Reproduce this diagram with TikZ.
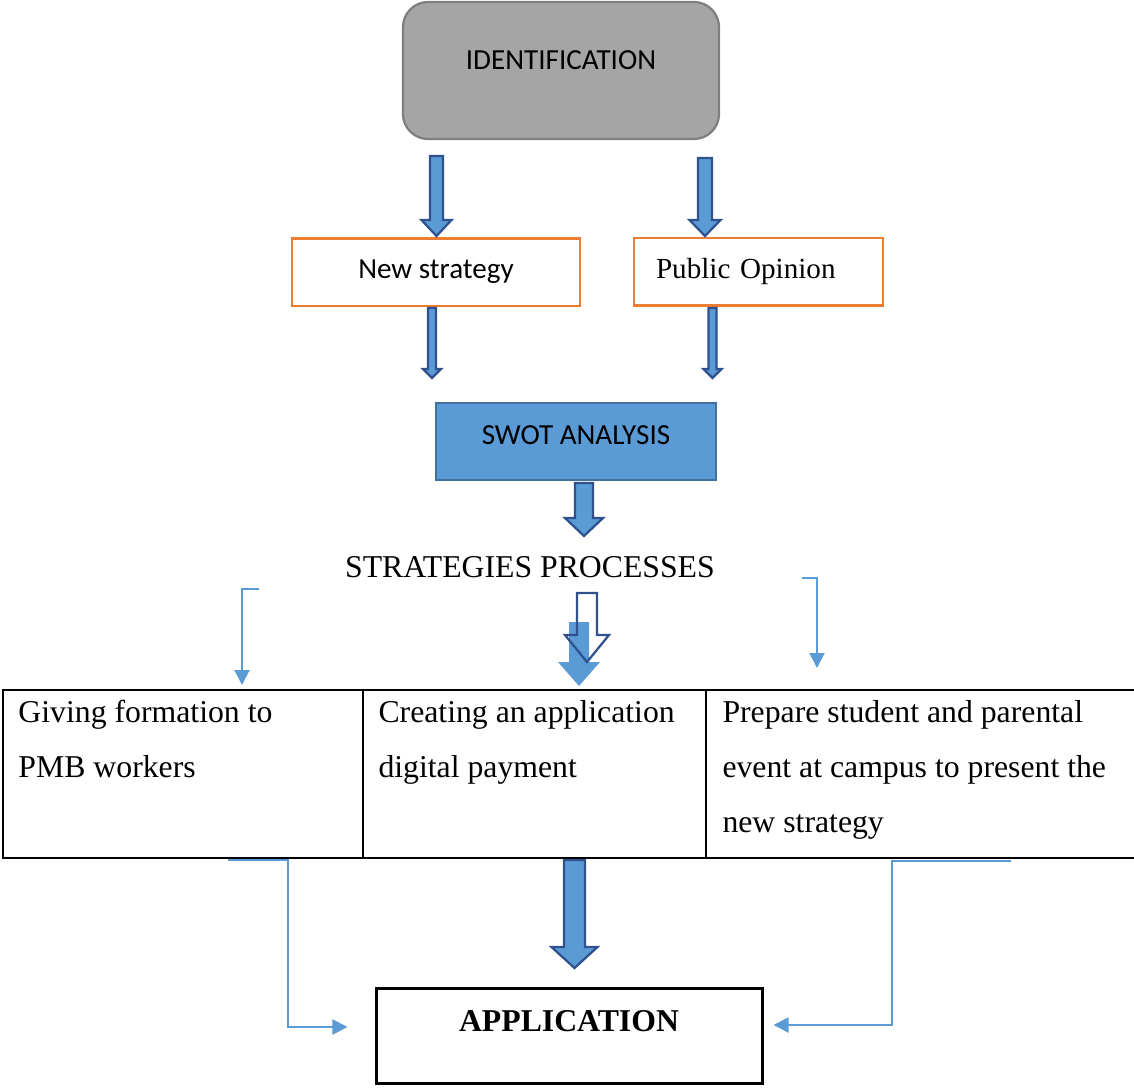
\documentclass[tikz,border=0pt]{standalone}
\usepackage{fontspec}
\setmainfont{Liberation Serif}
\newfontfamily\calibfont{Carlito}
\usetikzlibrary{arrows.meta}

\definecolor{accblue}{RGB}{91,155,213}
\definecolor{arrowedge}{RGB}{47,82,143}
\definecolor{swotedge}{RGB}{65,113,156}
\definecolor{boxorange}{RGB}{237,125,49}
\definecolor{idgray}{RGB}{165,165,165}
\definecolor{idedge}{RGB}{127,127,127}

\tikzset{
  pics/blockarrow/.style n args={4}{code={
    % #1 length, #2 half shaft, #3 half head, #4 head length (pointing down)
    \path[pic actions] (-#2,0) -- (#2,0) -- (#2,-#1+#4) -- (#3,-#1+#4) -- (0,-#1)
      -- (-#3,-#1+#4) -- (-#2,-#1+#4) -- cycle;
  }},
}

\begin{document}
\begin{tikzpicture}[x=0.4pt,y=0.4pt,yscale=-1,
  calib/.style={font=\calibfont\fontsize{11.65pt}{14pt}\selectfont},
  serif/.style={font=\fontsize{12.7pt}{22pt}\selectfont},
  idbox/.style={calib, draw=idedge, fill=idgray, line width=0.9pt, rounded corners=10pt,
    minimum width=126.4pt, minimum height=54.8pt, text depth=8pt},
  optbox/.style={draw=boxorange, line width=1pt, minimum height=27pt},
  swotbox/.style={calib, draw=swotedge, fill=accblue, line width=0.9pt,
    minimum width=112pt, minimum height=30.8pt, text depth=5.2pt},
  appbox/.style={font=\bfseries\fontsize{12.7pt}{15pt}\selectfont, draw=black,
    line width=1.2pt, minimum width=154.4pt, minimum height=38pt, text depth=12pt},
  celltext/.style={serif, anchor=north west, inner sep=0pt, align=left},
  blk/.style={fill=accblue, draw=arrowedge, line width=0.9pt, line join=miter},
  blkopen/.style={draw=arrowedge, line width=0.9pt, line join=miter},
  blkflat/.style={fill=accblue},
  link/.style={draw=accblue, line width=0.8pt, -{Triangle[width=6pt,length=6pt]}},
  grid/.style={draw=black, line width=0.8pt},
]
\useasboundingbox (0,0) rectangle (1134,1088);

% Boxes
\node[idbox] (ident) at (561,70.5) {IDENTIFICATION};
\node[optbox, calib, minimum width=115.2pt] (newstr) at (436,272) {New strategy};
\node[optbox, font=\fontsize{11.65pt}{14pt}\selectfont, align=left, text width=82pt,
  inner xsep=8.8pt] (pubop) at (758.5,271.5) {Public Opinion};
\node[swotbox] (swot) at (576,441.5) {SWOT ANALYSIS};
\node[serif, anchor=base] (strat) at (530,577) {STRATEGIES PROCESSES};
\node[appbox] (app) at (569,1035.5) {APPLICATION};

% Table
\draw[grid] (1140,690) -- (3,690) -- (3,858) -- (1140,858);
\draw[grid] (363,690) -- (363,858);
\draw[grid] (706,690) -- (706,858);
\node[celltext] (cella) at (18,700) {Giving formation to\\PMB workers};
\node[celltext] (cellb) at (378,700) {Creating an application\\digital payment};
\node[celltext] (cellc) at (722,700) {Prepare student and parental\\event at campus to present the\\new strategy};

% Block arrows
\pic[blk] at (436.5,156) {blockarrow={80}{6.5}{15}{16}};
\pic[blk] at (705,158) {blockarrow={78}{7}{15.5}{16}};
\pic[blk] at (432,308) {blockarrow={70}{4}{9}{9}};
\pic[blk] at (712.5,308) {blockarrow={70}{4}{9}{9}};
\pic[blk] at (584,483) {blockarrow={53}{9}{19}{18}};
\pic[blkflat] at (579,622) {blockarrow={64}{10}{21}{24}};
\pic[blkopen] at (587,593) {blockarrow={69}{10}{22}{27}};
\pic[blk] at (574.5,860) {blockarrow={108}{10.5}{23}{21}};

% Connections
\coordinate (lt) at (259,589);
\coordinate (lte) at (242,685);
\draw[link] (lt) -| (lte);
\coordinate (rt) at (802,578);
\coordinate (rte) at (817,668);
\draw[link] (rt) -| (rte);
\coordinate (lb) at (228,860);
\coordinate (lbk) at (288,1027);
\draw[link, shorten >=10.8pt] (lb) -| (lbk) -- (lbk -| app.west);
\coordinate (rb) at (1011,861);
\coordinate (rbk) at (892,1025);
\draw[link, shorten >=4pt] (rb) -| (rbk) -- (rbk -| app.east);

\end{tikzpicture}
\end{document}
